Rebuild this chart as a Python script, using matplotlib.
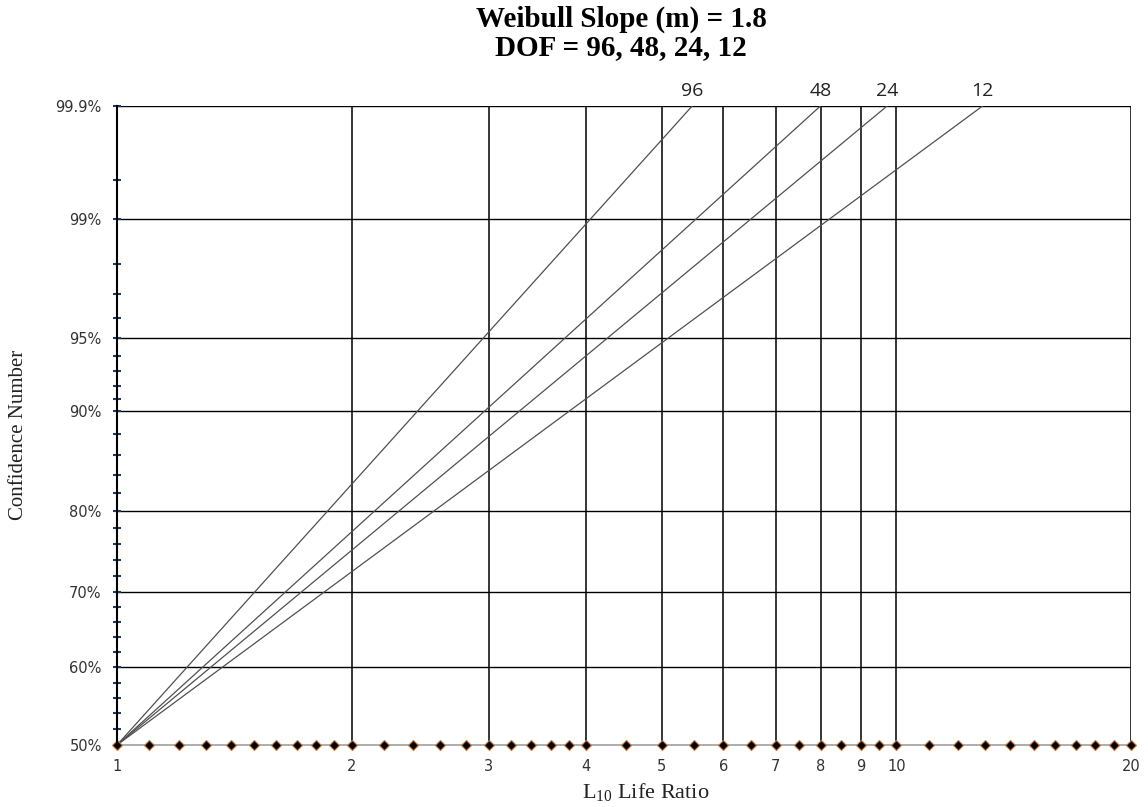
import numpy as np
import matplotlib
matplotlib.use('Agg')
import matplotlib.pyplot as plt
from matplotlib.ticker import NullLocator

# degrees of freedom and the L10 life ratio where each line reaches 99.9%
dof = [96, 48, 24, 12]
l10_end = [5.47, 7.99, 9.73, 12.9]
conf_start = 0.50
conf_end = 0.999

# y axis (confidence) ticks
conf_major = [0.50, 0.60, 0.70, 0.80, 0.90, 0.95, 0.99, 0.999]
conf_labels = ['50%', '60%', '70%', '80%', '90%', '95%', '99%', '99.9%']
conf_minor = [0.52, 0.54, 0.56, 0.58, 0.62, 0.64, 0.66, 0.68, 0.72, 0.74, 0.76, 0.78,
              0.82, 0.84, 0.86, 0.88, 0.91, 0.92, 0.93, 0.94, 0.96, 0.97, 0.98, 0.995]

# x axis ticks and the point series along the bottom
x_major = [1, 2, 3, 4, 5, 6, 7, 8, 9, 10, 20]
x_labels = ['1', '2', '3', '4', '5', '6', '7', '8', '9', '10', '20']
x_points = [1.0, 1.1, 1.2, 1.3, 1.4, 1.5, 1.6, 1.7, 1.8, 1.9, 2.0,
            2.2, 2.4, 2.6, 2.8, 3.0, 3.2, 3.4, 3.6, 3.8, 4.0,
            4.5, 5.0, 5.5, 6.0, 6.5, 7.0, 7.5, 8.0, 8.5, 9.0, 9.5, 10,
            11, 12, 13, 14, 15, 16, 17, 18, 19, 20]


# weibull probability scale: log10(-ln(1-C))
def fwd(c):
    c = np.clip(c, 1e-9, 1 - 1e-9)
    return np.log10(-np.log(1 - c))


def inv(y):
    return 1 - np.exp(-10 ** y)


fig = plt.figure(figsize=(11.48, 8.07), dpi=100)
ax = fig.add_axes([117 / 1148, 1 - 745 / 807, (1131 - 117) / 1148, (745 - 106) / 807])

ax.set_xscale('log')
ax.set_yscale('function', functions=(fwd, inv))
ax.set_xlim(1, 20)
ax.set_ylim(conf_start, conf_end)

# grid lines
for xv in x_major[1:]:
    ax.axvline(xv, color='black', lw=1.1, zorder=1)
for cv in conf_major[1:]:
    ax.axhline(cv, color='black', lw=1.0, zorder=1)

# confidence lines
for d, le in zip(dof, l10_end):
    ax.plot([1, le], [conf_start, conf_end], color='#505050', lw=0.9, zorder=3)
    ax.annotate(str(d), xy=(le, conf_end), xytext=(0, 4), textcoords='offset points',
                ha='center', va='bottom', fontsize=14, family='Open Sans', color='#222222',
                annotation_clip=False)

# bottom point series
ax.plot(x_points, [conf_start] * len(x_points), color='#a0a0a0', lw=1.2,
        marker='D', markersize=5.5, markerfacecolor='black', markeredgecolor='#c8783a',
        markeredgewidth=0.8, clip_on=False, zorder=4)

for s in ['top', 'right', 'bottom']:
    ax.spines[s].set_visible(False)
ax.spines['left'].set_linewidth(1.5)
ax.spines['left'].set_zorder(5)

ax.set_yticks(conf_major)
ax.set_yticklabels(conf_labels)
ax.set_yticks(conf_minor, minor=True)
ax.tick_params(axis='y', which='both', direction='inout', length=6, width=1.5,
               color='#1f3b63', labelsize=10.5, labelcolor='#333333', pad=8)

ax.set_xticks(x_major)
ax.set_xticklabels(x_labels)
ax.xaxis.set_minor_locator(NullLocator())
ax.tick_params(axis='x', which='both', length=0, labelsize=10.5, labelcolor='#333333', pad=10)

fig.text(621 / 1148, 1 - 6 / 807, 'Weibull Slope (m) = 1.8\nDOF = 96, 48, 24, 12',
         ha='center', va='top', fontsize=21, fontweight='bold', family='Liberation Serif',
         linespacing=1.05)
fig.text(646 / 1148, 1 - 792 / 807, r'$\mathregular{L_{10}}$ Life Ratio', ha='center', va='center',
         fontsize=16, family='Liberation Serif', color='#222222')
fig.text(19 / 1148, 1 - 435 / 807, 'Confidence Number', ha='center', va='center', rotation=90,
         fontsize=15, family='Liberation Serif', color='#222222')

plt.savefig('out.png', dpi=100)
